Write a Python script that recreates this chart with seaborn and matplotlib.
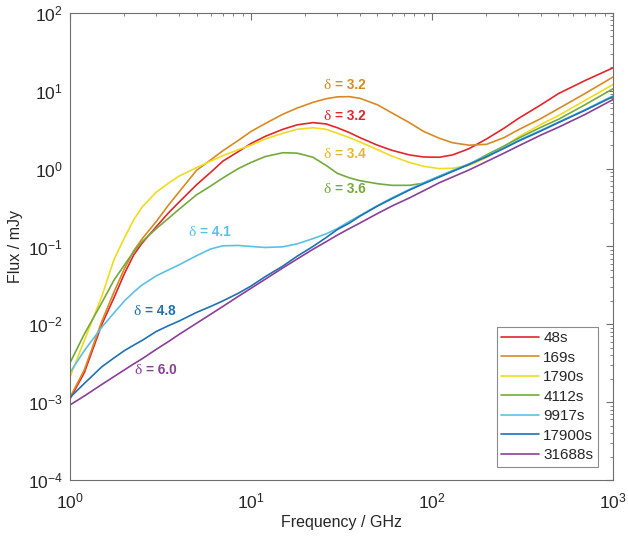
import matplotlib
matplotlib.use("Agg")
import math
import matplotlib.pyplot as plt
import seaborn as sns
import pandas as pd
from matplotlib.ticker import LogLocator, NullFormatter, FuncFormatter, FixedLocator

# ---- data ----
freq = [1, 1.2, 1.5, 1.75, 2, 2.25, 2.5, 3, 3.5, 4, 5, 6, 7, 8.5, 10, 12, 15, 18, 22, 26, 30,
        35, 40, 50, 60, 75, 90, 110, 130, 160, 200, 250, 300, 400, 500, 700, 1000]

flux_48s = [1.1e-3, 2.4e-3, 0.010, 0.022, 0.045, 0.078, 0.11, 0.18, 0.27, 0.37, 0.62, 0.9, 1.25,
            1.65, 2.1, 2.6, 3.2, 3.65, 3.9, 3.75, 3.35, 2.9, 2.5, 2.0, 1.72, 1.5, 1.41, 1.4,
            1.5, 1.8, 2.4, 3.3, 4.4, 6.6, 9.2, 13.5, 19.7]
flux_169s = [1.15e-3, 2.6e-3, 0.011, 0.026, 0.052, 0.088, 0.125, 0.21, 0.34, 0.5, 0.95, 1.3, 1.7,
             2.3, 3.0, 3.8, 5.0, 6.0, 7.1, 7.9, 8.35, 8.4, 8.0, 6.6, 5.2, 3.9, 3.0, 2.45, 2.15,
             2.0, 2.05, 2.5, 3.15, 4.4, 5.9, 9.2, 15.0]
flux_1790s = [2.1e-3, 6.2e-3, 0.023, 0.068, 0.13, 0.22, 0.32, 0.5, 0.65, 0.8, 1.03, 1.25, 1.47,
              1.75, 2.0, 2.4, 2.85, 3.2, 3.35, 3.2, 2.85, 2.5, 2.2, 1.75, 1.45, 1.2, 1.07, 1.0,
              1.01, 1.1, 1.38, 1.9, 2.55, 3.7, 4.8, 7.5, 12.0]
flux_4112s = [3.2e-3, 7.5e-3, 0.019, 0.037, 0.058, 0.086, 0.115, 0.17, 0.23, 0.3, 0.46, 0.6, 0.76,
              1.0, 1.2, 1.43, 1.6, 1.58, 1.4, 1.1, 0.87, 0.76, 0.7, 0.64, 0.61, 0.61, 0.65, 0.8,
              0.93, 1.13, 1.5, 1.95, 2.45, 3.4, 4.3, 6.6, 10.6]
flux_9917s = [2.4e-3, 4.6e-3, 9.2e-3, 0.014, 0.02, 0.026, 0.032, 0.042, 0.05, 0.058, 0.076, 0.093,
              0.102, 0.103, 0.1, 0.097, 0.099, 0.108, 0.126, 0.145, 0.17, 0.21, 0.25, 0.335, 0.42,
              0.54, 0.66, 0.8, 0.95, 1.15, 1.45, 1.85, 2.3, 3.1, 3.95, 5.7, 8.6]
flux_17900s = [1.15e-3, 1.74e-3, 2.85e-3, 3.7e-3, 4.6e-3, 5.4e-3, 6.2e-3, 8.1e-3, 9.6e-3, 0.011,
               0.0142, 0.017, 0.02, 0.025, 0.031, 0.041, 0.056, 0.075, 0.1, 0.13, 0.165, 0.2,
               0.245, 0.33, 0.41, 0.53, 0.64, 0.78, 0.92, 1.13, 1.42, 1.82, 2.25, 3.05, 3.9,
               5.6, 8.4]
flux_31688s = [9.2e-4, 1.2e-3, 1.69e-3, 2.13e-3, 2.6e-3, 3.1e-3, 3.6e-3, 4.78e-3, 6e-3, 7.4e-3,
               0.0103, 0.0135, 0.017, 0.0228, 0.029, 0.038, 0.053, 0.069, 0.092, 0.115, 0.14,
               0.17, 0.2, 0.265, 0.33, 0.42, 0.52, 0.66, 0.78, 0.96, 1.23, 1.58, 1.95, 2.7, 3.4,
               4.95, 7.7]

series_names = ["48s", "169s", "1790s", "4112s", "9917s", "17900s", "31688s"]
series_vals = [flux_48s, flux_169s, flux_1790s, flux_4112s, flux_9917s, flux_17900s, flux_31688s]
colors = ["#E3262B", "#D88A22", "#F0DC1E", "#74AA3C", "#5BC0E6", "#1E72B4", "#8A3F98"]

x_major_ticks = [1, 10, 100, 1000]
y_major_ticks = [1e-4, 1e-3, 1e-2, 1e-1, 1, 10, 100]

delta_values = ["3.2", "3.2", "3.4", "3.6", "4.1", "4.8", "6.0"]
label_colors = ["#D88A22", "#E3262B", "#E6B82E", "#74AA3C", "#5BC0E6", "#1E72B4", "#8A3F98"]
label_x = [25.1, 25.1, 25.1, 25.1, 4.5, 2.23, 2.26]
label_y = [11.9, 4.77, 1.56, 0.555, 0.156, 0.0151, 0.00265]

rows = []
for name, vals in zip(series_names, series_vals):
    for f, v in zip(freq, vals):
        rows.append({"Frequency": f, "Flux": v, "Time": name})
df = pd.DataFrame(rows)

sns.set_style("white")
plt.rcParams["font.family"] = ["Liberation Sans", "DejaVu Sans"]
plt.rcParams["mathtext.fontset"] = "custom"
plt.rcParams["mathtext.sf"] = "Liberation Sans"
plt.rcParams["mathtext.rm"] = "Liberation Sans"

fig = plt.figure(figsize=(6.28, 5.39), dpi=100)
ax = fig.add_axes([0.1115, 0.1095, 0.8645, 0.8665])

sns.lineplot(data=df, x="Frequency", y="Flux", hue="Time", hue_order=series_names,
             palette=dict(zip(series_names, colors)), sort=False, estimator=None,
             linewidth=1.2, ax=ax)

ax.set_xscale("log")
ax.set_yscale("log")
ax.set_xlim(1, 1000)
ax.set_ylim(1e-4, 1e2)

ax.set_xlabel("Frequency / GHz", fontsize=11.5, color="#262626", labelpad=3)
ax.set_ylabel("Flux / mJy", fontsize=11.5, color="#262626")

for s in ax.spines.values():
    s.set_color("#6e6e6e")
    s.set_linewidth(0.8)
ax.xaxis.set_major_locator(FixedLocator(x_major_ticks))
ax.yaxis.set_major_locator(FixedLocator(y_major_ticks))
ax.xaxis.set_minor_locator(LogLocator(base=10, subs=range(2, 10), numticks=20))
ax.yaxis.set_minor_locator(LogLocator(base=10, subs=range(2, 10), numticks=20))
ax.xaxis.set_minor_formatter(NullFormatter())
ax.yaxis.set_minor_formatter(NullFormatter())
fmt = FuncFormatter(lambda v, _: r"$\mathsf{10^{%d}}$" % round(math.log10(v)))
ax.xaxis.set_major_formatter(fmt)
ax.yaxis.set_major_formatter(fmt)
ax.tick_params(which="both", direction="in", top=True, right=True, color="#6e6e6e",
               labelsize=12.5, labelcolor="#262626")
ax.tick_params(which="major", length=5, width=0.8)
ax.tick_params(which="minor", length=2.5, width=0.6)
ax.tick_params(axis="x", which="major", pad=8)
ax.tick_params(axis="y", which="major", pad=5)

for t, c, x, y in zip(delta_values, label_colors, label_x, label_y):
    ax.annotate("δ", xy=(x, y), xytext=(0, -4.5), textcoords="offset pixels",
                color=c, fontsize=11, family="Liberation Serif", ha="left", va="baseline")
    ax.annotate("= " + t, xy=(x, y), xytext=(11.5, -4.5), textcoords="offset pixels",
                color=c, fontsize=9.8, fontweight="bold", ha="left", va="baseline")

leg = ax.legend(loc="lower right", bbox_to_anchor=(0.972, 0.028), borderaxespad=0,
                fontsize=11, frameon=True, fancybox=False, handlelength=2.45,
                handletextpad=0.3, labelspacing=0.36, borderpad=0.3)
leg.get_frame().set_edgecolor("#6e6e6e")
leg.get_frame().set_linewidth(0.8)
for line in leg.get_lines():
    line.set_linewidth(1.2)

fig.savefig("out.png", dpi=100)
